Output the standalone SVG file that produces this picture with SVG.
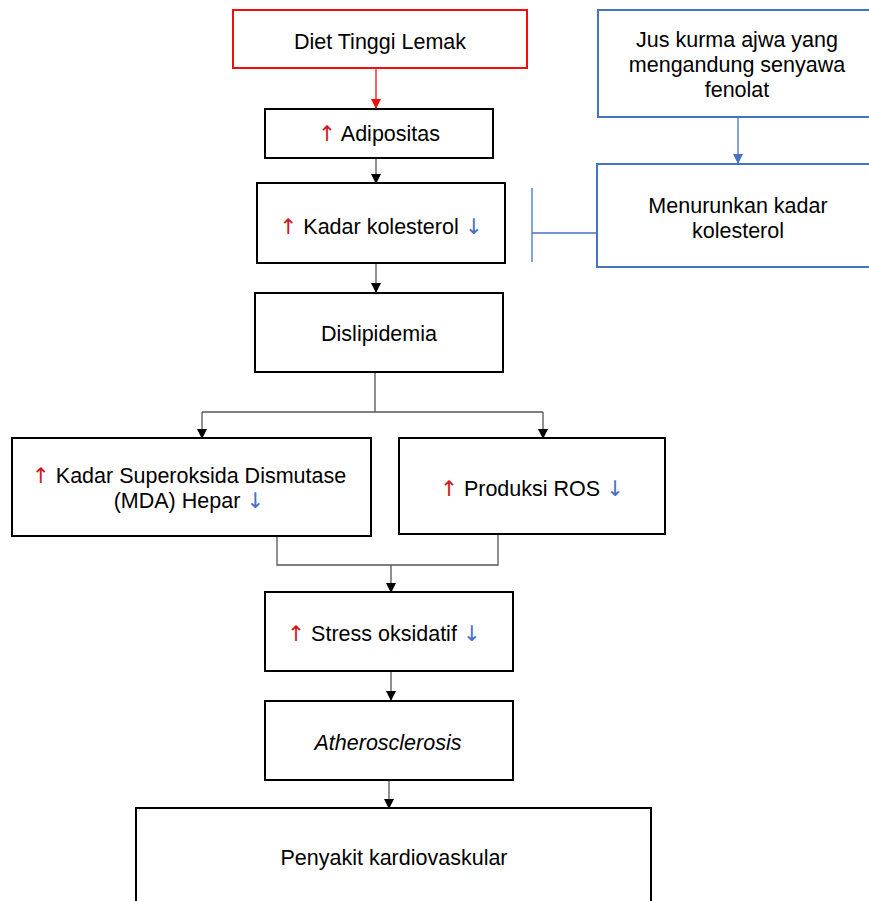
<svg xmlns="http://www.w3.org/2000/svg" width="869" height="901" viewBox="0 0 869 901">
<defs>
<style>
.box{fill:#fff;stroke:#000;stroke-width:2}
.red{fill:#fff;stroke:#f20d0d;stroke-width:2}
.blue{fill:#fff;stroke:#4472c4;stroke-width:2}
.t{font-family:"Liberation Sans",Arial,sans-serif;font-size:21.5px;fill:#000;text-anchor:middle}
.up{fill:#d0161b;font-family:"DejaVu Sans",sans-serif}
.dn{fill:#4472c4;font-family:"DejaVu Sans",sans-serif}
.c{fill:none;stroke:#555;stroke-width:1.3}
.cb{fill:none;stroke:#4472c4;stroke-width:1.3}
.cr{fill:none;stroke:#f20d0d;stroke-width:1.3}
</style>
<marker id="ak" markerWidth="10" markerHeight="10" refX="9" refY="5" orient="auto" markerUnits="userSpaceOnUse"><path d="M0,0 L10,5 L0,10 Z" fill="#000"/></marker>
<marker id="ar" markerWidth="10" markerHeight="10" refX="9" refY="5" orient="auto" markerUnits="userSpaceOnUse"><path d="M0,0 L10,5 L0,10 Z" fill="#f20d0d"/></marker>
<marker id="ab" markerWidth="10" markerHeight="10" refX="9" refY="5" orient="auto" markerUnits="userSpaceOnUse"><path d="M0,0 L10,5 L0,10 Z" fill="#4472c4"/></marker>
</defs>
<rect width="869" height="901" fill="#fff"/>
<g id="connectors">
<path class="cr" d="M376,68 V108" marker-end="url(#ar)"/>
<path class="c" d="M376,158 V183" marker-end="url(#ak)"/>
<path class="c" d="M376,263 V292" marker-end="url(#ak)"/>
<path class="c" d="M375,372 V412 M202,412 H543"/>
<path class="c" d="M202,412 V438" marker-end="url(#ak)"/>
<path class="c" d="M543,412 V438" marker-end="url(#ak)"/>
<path class="c" d="M277,536 V565 H498 V534"/>
<path class="c" d="M391,565 V592" marker-end="url(#ak)"/>
<path class="c" d="M391,671 V700" marker-end="url(#ak)"/>
<path class="c" d="M389,780 V808" marker-end="url(#ak)"/>
<path class="cb" d="M738,117 V163" marker-end="url(#ab)"/>
<path class="cb" d="M597,233 H532 M532,188 V262"/>
</g>
<g id="diet"><rect class="red" x="233" y="10" width="294" height="58"/><text class="t" x="380" y="49">Diet Tinggi Lemak</text></g>
<g id="jus"><rect class="blue" x="598" y="10" width="280" height="107"/><text class="t" x="737" y="47">Jus kurma ajwa yang</text><text class="t" x="737" y="72">mengandung senyawa</text><text class="t" x="737" y="97">fenolat</text></g>
<g id="adipositas"><rect class="box" x="265" y="109" width="228" height="49"/><text class="t" x="379" y="141"><tspan class="up">↑</tspan> Adipositas</text></g>
<g id="kolesterol"><rect class="box" x="257" y="183" width="248" height="80"/><text class="t" x="381" y="234"><tspan class="up">↑</tspan> Kadar kolesterol <tspan class="dn">↓</tspan></text></g>
<g id="menurunkan"><rect class="blue" x="597" y="164" width="280" height="103"/><text class="t" x="738" y="213">Menurunkan kadar</text><text class="t" x="738" y="238">kolesterol</text></g>
<g id="dislipidemia"><rect class="box" x="255" y="293" width="248" height="79"/><text class="t" x="379" y="341">Dislipidemia</text></g>
<g id="sod"><rect class="box" x="12" y="438" width="359" height="98"/><text class="t" x="189" y="483"><tspan class="up">↑</tspan> Kadar Superoksida Dismutase</text><text class="t" x="189" y="508">(MDA) Hepar <tspan class="dn">↓</tspan></text></g>
<g id="ros"><rect class="box" x="399" y="438" width="266" height="96"/><text class="t" x="532" y="496"><tspan class="up">↑</tspan> Produksi ROS <tspan class="dn">↓</tspan></text></g>
<g id="stress"><rect class="box" x="265" y="592" width="248" height="79"/><text class="t" x="384" y="641"><tspan class="up">↑</tspan> Stress oksidatif <tspan class="dn">↓</tspan></text></g>
<g id="athero"><rect class="box" x="265" y="701" width="248" height="79"/><text class="t" x="388" y="750" font-style="italic">Atherosclerosis</text></g>
<g id="penyakit"><rect class="box" x="136" y="808" width="515" height="110"/><text class="t" x="394" y="865">Penyakit kardiovaskular</text></g>
</svg>
